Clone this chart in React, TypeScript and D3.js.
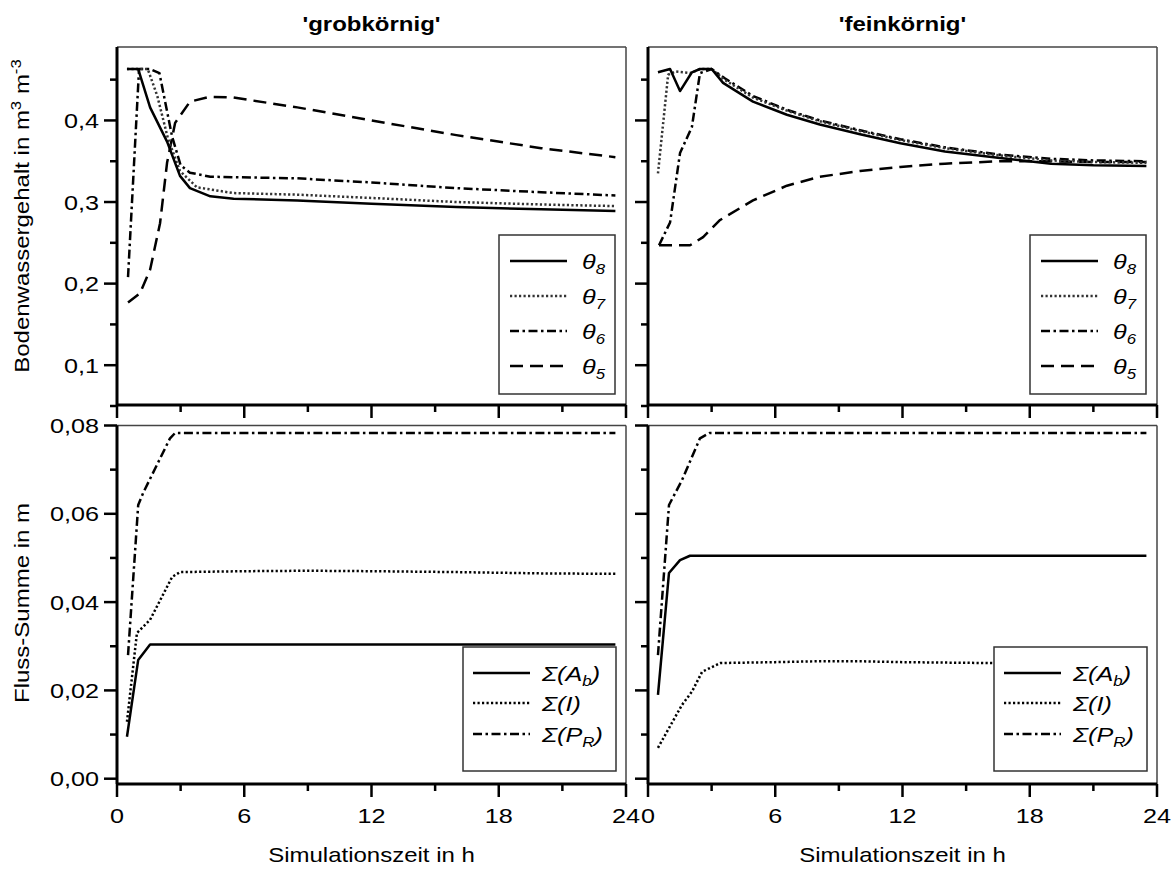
import React from 'react';
import * as d3 from 'd3';

// ---------- data (time in h, value) ----------
const grobTheta8: [number, number][] = [[0.47,0.463],[1.0,0.463],[1.56,0.416],[2.36,0.374],[2.97,0.332],[3.44,0.317],[4.4,0.307],[5.5,0.304],[8.5,0.302],[12,0.298],[16,0.294],[20,0.291],[23.5,0.289]];
const grobTheta7: [number, number][] = [[0.47,0.463],[1.45,0.463],[1.9,0.43],[2.4,0.378],[2.97,0.338],[3.77,0.318],[5.47,0.311],[8.5,0.309],[12,0.305],[16,0.300],[20,0.297],[23.5,0.295]];
const grobTheta6: [number, number][] = [[0.52,0.208],[1.04,0.463],[1.56,0.463],[2.0,0.458],[2.6,0.38],[3.0,0.345],[3.44,0.336],[4.4,0.331],[8.5,0.329],[12,0.324],[16,0.317],[20,0.312],[23.5,0.308]];
const grobTheta5: [number, number][] = [[0.52,0.177],[1.08,0.188],[1.56,0.217],[2.03,0.274],[2.36,0.348],[2.74,0.397],[3.44,0.423],[4.39,0.429],[5.5,0.428],[8.5,0.416],[12,0.400],[16,0.382],[20,0.366],[23.5,0.355]];

const feinTheta8: [number, number][] = [[0.47,0.459],[1.04,0.463],[1.51,0.436],[2.07,0.459],[2.45,0.463],[3.0,0.463],[3.54,0.446],[4.95,0.423],[6.55,0.407],[8.1,0.395],[10,0.383],[11.9,0.372],[14,0.362],[16.6,0.354],[19,0.347],[21,0.345],[23.5,0.344]];
const feinTheta7: [number, number][] = [[0.47,0.335],[0.95,0.456],[1.3,0.46],[2.0,0.458],[2.45,0.463],[3.0,0.463],[3.6,0.45],[4.95,0.428],[6.55,0.412],[8.1,0.399],[10,0.387],[11.9,0.376],[14,0.366],[16.6,0.357],[19,0.351],[21,0.349],[23.5,0.348]];
const feinTheta6: [number, number][] = [[0.52,0.247],[1.04,0.275],[1.51,0.36],[2.07,0.392],[2.45,0.458],[3.0,0.463],[3.6,0.452],[4.95,0.43],[6.55,0.413],[8.1,0.4],[10,0.388],[11.9,0.377],[14,0.367],[16.6,0.358],[19,0.353],[21,0.351],[23.5,0.35]];
const feinTheta5: [number, number][] = [[0.52,0.247],[1.98,0.247],[2.6,0.257],[3.4,0.278],[4.95,0.302],[6.55,0.320],[8.1,0.331],[10,0.338],[11.9,0.343],[14,0.347],[16.6,0.350],[19,0.350],[21,0.349],[23.5,0.349]];

const grobSumAb: [number, number][] = [[0.47,0.0095],[1.0,0.0269],[1.56,0.0304],[6,0.0304],[12,0.0304],[18,0.0304],[23.5,0.0304]];
const grobSumI: [number, number][] = [[0.47,0.0129],[0.94,0.033],[1.56,0.036],[2.6,0.0457],[2.97,0.0468],[6,0.047],[9,0.0471],[12,0.047],[16,0.0468],[20,0.0465],[23.5,0.0464]];
const grobSumPR: [number, number][] = [[0.52,0.028],[1.0,0.062],[1.23,0.0647],[2.5,0.0771],[2.74,0.0783],[6,0.0783],[12,0.0783],[18,0.0783],[23.5,0.0783]];

const feinSumAb: [number, number][] = [[0.47,0.019],[0.99,0.0466],[1.51,0.0495],[1.98,0.0505],[6,0.0505],[12,0.0505],[18,0.0505],[23.5,0.0505]];
const feinSumI: [number, number][] = [[0.47,0.007],[1.6,0.0167],[2.07,0.0197],[2.55,0.0242],[3.4,0.0262],[6,0.0264],[8,0.0266],[10,0.0266],[12,0.0264],[16,0.0262],[20,0.026],[23.5,0.026]];
const feinSumPR: [number, number][] = [[0.47,0.028],[0.99,0.062],[1.6,0.0676],[2.45,0.0771],[2.9,0.0783],[6,0.0783],[12,0.0783],[18,0.0783],[23.5,0.0783]];

const xMajor = [0, 6, 12, 18, 24];
const xMinor = [3, 9, 15, 21];
const thetaMajor = [0.1, 0.2, 0.3, 0.4];
const thetaMinor = [0.05, 0.15, 0.25, 0.35, 0.45];
const fluxMajor = [0, 0.02, 0.04, 0.06, 0.08];
const fluxMinor = [0.01, 0.03, 0.05, 0.07];

const panelTitles = ["'grobkörnig'", "'feinkörnig'"];
const xTitle = 'Simulationszeit in h';

// ---------- styles ----------
const FONT = '"Liberation Sans", Arial, sans-serif';
const SX = 1.2;
type St = { stroke: string; width: number; dash?: string };
const solid: St = { stroke: '#000', width: 2.5 };
const dotted: St = { stroke: '#333', width: 2.5, dash: '2.2,2.3' };
const dashdot: St = { stroke: '#000', width: 2.5, dash: '9,3.5,2.5,3.5' };
const dashed: St = { stroke: '#000', width: 2.5, dash: '13,7' };

function T(props: any) {
  const { x, y, anchor = 'start', size = 21, weight = 'normal', italic = false, rotate = 0, children } = props;
  return (
    <g transform={`translate(${x},${y})${rotate ? ` rotate(${rotate})` : ''} scale(${SX},1)`}>
      <text textAnchor={anchor} fontSize={size} fontWeight={weight} fontStyle={italic ? 'italic' : 'normal'} fontFamily={FONT} fill="#000">
        {children}
      </text>
    </g>
  );
}

type Series = { data: [number, number][]; st: St };
type LegendRow = { st: St; label: React.ReactNode };

function Panel(props: {
  x0: number; x1: number; y0: number; y1: number; yBottom: number;
  yDomain: [number, number]; yMajor: number[]; yMinor: number[]; yFmt: (v: number) => string;
  yLabels: boolean; xLabels: boolean; series: Series[];
  legend: { x: number; y: number; w: number; h: number; rows: LegendRow[]; rowY: number[]; lx0: number; lx1: number; tx: number };
}) {
  const { x0, x1, y0, y1, yBottom } = props;
  const xs = d3.scaleLinear().domain([0, 24]).range([x0, x1]);
  const ys = d3.scaleLinear().domain(props.yDomain).range([yBottom, y0]);
  const line = d3.line<[number, number]>().x(d => xs(d[0])).y(d => ys(d[1]));
  const L = props.legend;
  return (
    <g>
      {props.series.map((s, i) => (
        <path key={i} d={line(s.data) || ''} fill="none" stroke={s.st.stroke} strokeWidth={s.st.width}
          strokeDasharray={s.st.dash} strokeLinejoin="round" />
      ))}
      {/* frame */}
      <line x1={x0} x2={x1} y1={y0} y2={y0} stroke="#444" strokeWidth={1.5} />
      <line x1={x1} x2={x1} y1={y0} y2={y1} stroke="#444" strokeWidth={1.5} />
      <line x1={x0} x2={x0} y1={y0} y2={y1} stroke="#000" strokeWidth={3} />
      <line x1={x0} x2={x1} y1={y1} y2={y1} stroke="#000" strokeWidth={3} />
      {/* y ticks */}
      {props.yMajor.map(v => (
        <g key={'ym' + v}>
          <line x1={x0 - 13} x2={x0} y1={ys(v)} y2={ys(v)} stroke="#000" strokeWidth={2.5} />
          {props.yLabels && <T x={x0 - 18} y={ys(v) + 7.5} anchor="end">{props.yFmt(v)}</T>}
        </g>
      ))}
      {props.yMinor.map(v => (
        <line key={'yn' + v} x1={x0 - 7} x2={x0} y1={ys(v)} y2={ys(v)} stroke="#000" strokeWidth={2.5} />
      ))}
      {/* x ticks */}
      {xMajor.map(v => (
        <g key={'xm' + v}>
          <line x1={xs(v)} x2={xs(v)} y1={y1} y2={y1 + 13} stroke="#000" strokeWidth={2.5} />
          {props.xLabels && <T x={xs(v)} y={y1 + 39} anchor="middle">{String(v)}</T>}
        </g>
      ))}
      {xMinor.map(v => (
        <line key={'xn' + v} x1={xs(v)} x2={xs(v)} y1={y1} y2={y1 + 7} stroke="#000" strokeWidth={2.5} />
      ))}
      {/* legend */}
      <rect x={L.x} y={L.y} width={L.w} height={L.h} fill="#fff" stroke="#333" strokeWidth={1.5} />
      {L.rows.map((r, i) => (
        <g key={'lg' + i}>
          <line x1={L.x + L.lx0} x2={L.x + L.lx1} y1={L.rowY[i]} y2={L.rowY[i]} stroke={r.st.stroke} strokeWidth={r.st.width} strokeDasharray={r.st.dash} />
          <T x={L.x + L.tx} y={L.rowY[i] + 8} size={21} italic>{r.label}</T>
        </g>
      ))}
    </g>
  );
}

const thetaLabel = (n: string) => (<>θ<tspan fontSize={14} dy={5}>{n}</tspan></>);
const sumLabel = (main: string, sub?: string) => sub
  ? (<>Σ({main}<tspan fontSize={14} dy={5}>{sub}</tspan><tspan dy={-5}>)</tspan></>)
  : (<>Σ({main})</>);

export default function App() {
  const cols = [
    { x0: 117, x1: 626, theta: [grobTheta8, grobTheta7, grobTheta6, grobTheta5], flux: [grobSumAb, grobSumI, grobSumPR] },
    { x0: 648, x1: 1157, theta: [feinTheta8, feinTheta7, feinTheta6, feinTheta5], flux: [feinSumAb, feinSumI, feinSumPR] },
  ];
  const fmt1 = (v: number) => v.toFixed(1).replace('.', ',');
  const fmt2 = (v: number) => v.toFixed(2).replace('.', ',');
  return (
    <svg width={1173} height={871} style={{ position: 'absolute', left: 0, top: 0, background: '#fff' }}>
      <rect width={1173} height={871} fill="#fff" />
      {cols.map((c, ci) => (
        <g key={ci}>
          <T x={(c.x0 + c.x1) / 2} y={31} anchor="middle" size={20} weight="bold">{panelTitles[ci]}</T>
          <Panel x0={c.x0} x1={c.x1} y0={47} y1={405} yBottom={406} yDomain={[0.05, 0.49]}
            yMajor={thetaMajor} yMinor={thetaMinor} yFmt={fmt1} yLabels={ci === 0} xLabels={false}
            series={[
              { data: c.theta[3], st: dashed },
              { data: c.theta[2], st: dashdot },
              { data: c.theta[1], st: dotted },
              { data: c.theta[0], st: solid },
            ]}
            legend={{ x: c.x1 - 127, y: 235, w: 116, h: 159, rowY: [261, 296, 331, 366], lx0: 11, lx1: 68, tx: 83,
              rows: [
                { st: solid, label: thetaLabel('8') },
                { st: dotted, label: thetaLabel('7') },
                { st: dashdot, label: thetaLabel('6') },
                { st: dashed, label: thetaLabel('5') },
              ] }}
          />
          <Panel x0={c.x0} x1={c.x1} y0={425.5} y1={784} yBottom={784} yDomain={[-0.0012, 0.08]}
            yMajor={fluxMajor} yMinor={fluxMinor} yFmt={fmt2} yLabels={ci === 0} xLabels={true}
            series={[
              { data: c.flux[2], st: dashdot },
              { data: c.flux[1], st: { ...dotted, stroke: '#000' } },
              { data: c.flux[0], st: solid },
            ]}
            legend={{ x: c.x1 - 163, y: 647, w: 153, h: 124, rowY: [673, 703, 734], lx0: 10, lx1: 67, tx: 79,
              rows: [
                { st: solid, label: sumLabel('A', 'b') },
                { st: { ...dotted, stroke: '#000' }, label: sumLabel('I') },
                { st: dashdot, label: sumLabel('P', 'R') },
              ] }}
          />
          <T x={(c.x0 + c.x1) / 2} y={862} anchor="middle" size={20}>{xTitle}</T>
        </g>
      ))}
      <T x={29} y={216} anchor="middle" rotate={-90} size={20}>
        Bodenwassergehalt in m<tspan fontSize={14} dy={-8}>3</tspan><tspan dy={8}> m</tspan><tspan fontSize={14} dy={-8}>-3</tspan>
      </T>
      <T x={29} y={603} anchor="middle" rotate={-90} size={20}>Fluss-Summe in m</T>
    </svg>
  );
}
